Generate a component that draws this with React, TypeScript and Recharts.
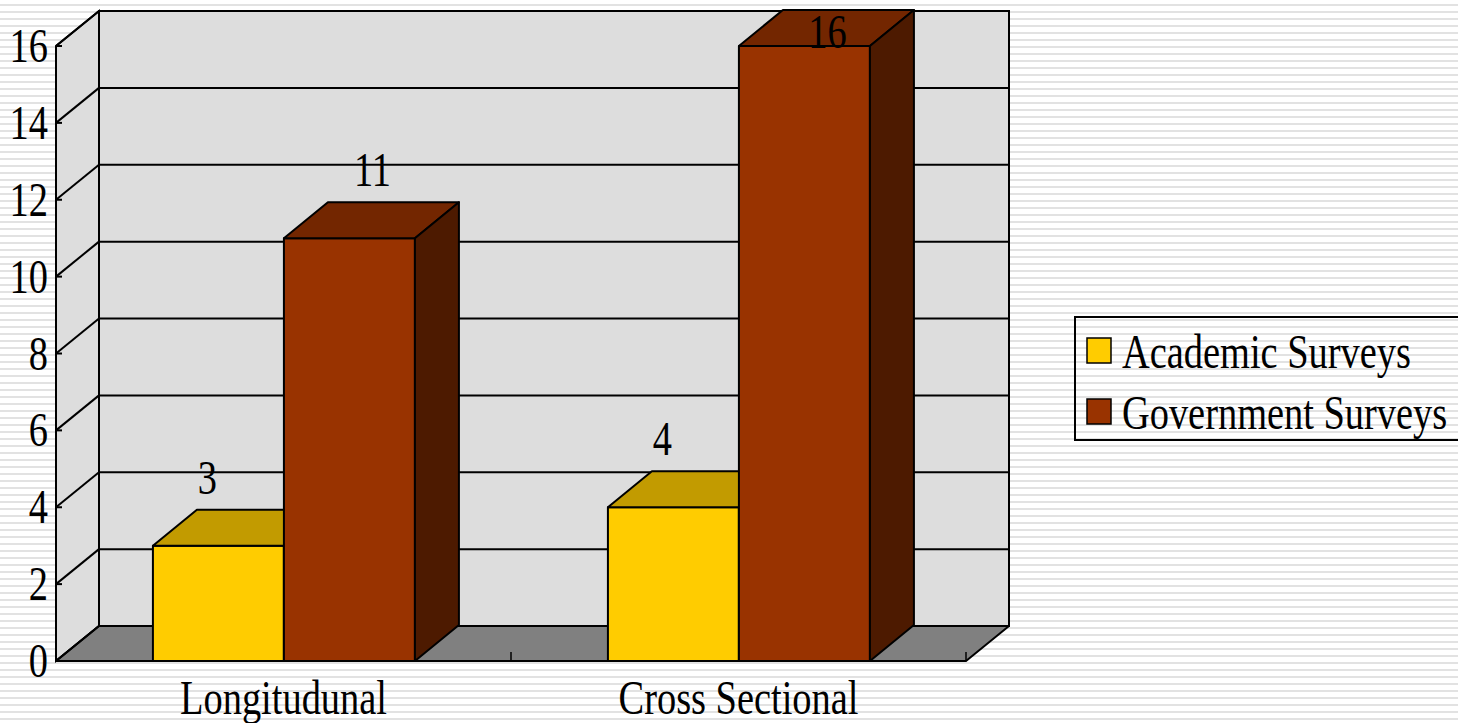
import React from 'react';
import { BarChart, Bar, XAxis, YAxis, ReferenceArea, ReferenceLine, LabelList, Legend } from 'recharts';

const categories = ['Longitudunal', 'Cross Sectional'];
const academicSurveys = [3, 4];
const governmentSurveys = [11, 16];
const yTicks = [0, 2, 4, 6, 8, 10, 12, 14, 16];

const data = categories.map((name, i) => ({
  name,
  academic: academicSurveys[i],
  government: governmentSurveys[i],
}));

const FONT = 'Liberation Serif, DejaVu Serif, serif';
// depth of the 3d walls and of the boxes
const WX = 43, WY = -35;
const BX = 44, BY = -36;

const series = [
  { key: 'academic', name: 'Academic Surveys', front: '#ffcc00', top: '#c29b00', side: '#806600', shift: -11 },
  { key: 'government', name: 'Government Surveys', front: '#993300', top: '#732600', side: '#4d1a00', shift: 23 },
];

const Walls = (p: any) => {
  const { x, y, width: w, height: h } = p;
  const b = y + h;
  return (
    <g>
      <polygon points={`${x},${b} ${x},${y} ${x + WX},${y + WY} ${x + WX},${b + WY}`} fill="#dddddd" stroke="#000" strokeWidth={2} />
      <rect x={x + WX} y={y + WY} width={w} height={h} fill="#dddddd" stroke="#000" strokeWidth={2} />
      <polygon points={`${x},${b} ${x + WX},${b + WY} ${x + w + WX},${b + WY} ${x + w},${b}`} fill="#808080" stroke="#000" strokeWidth={2} strokeLinejoin="round" />
      {[0, 0.5, 1].map((f) => (
        <line key={f} x1={x + w * f} y1={b} x2={x + w * f} y2={b - 9} stroke="#000" strokeWidth={1.5} />
      ))}
    </g>
  );
};

const GridLine = (p: any) => {
  const { x1, y1, x2 } = p;
  return (
    <g stroke="#000" strokeWidth={2}>
      <line x1={x1} y1={y1} x2={x1 + WX} y2={y1 + WY} />
      <line x1={x1 + WX} y1={y1 + WY} x2={x2 + WX} y2={y1 + WY} />
      <line x1={x1} y1={y1} x2={x1 + 6} y2={y1} />
    </g>
  );
};

const Box = (p: any) => {
  const { x, y, width: w, height: h, s } = p;
  if (!h) return null;
  return (
    <g stroke="#000" strokeWidth={2} strokeLinejoin="round">
      <rect x={x} y={y} width={w} height={h} fill={s.front} />
      <polygon points={`${x},${y} ${x + BX},${y + BY} ${x + w + BX},${y + BY} ${x + w},${y}`} fill={s.top} />
      <polygon points={`${x + w},${y} ${x + w + BX},${y + BY} ${x + w + BX},${y + h + BY} ${x + w},${y + h}`} fill={s.side} />
    </g>
  );
};

const ValueLabel = (p: any) => {
  const { x, y, width, value, shift } = p;
  const cx = x + width / 2 + shift;
  const cy = Math.max(y - 52, 48);
  return (
    <text transform={`translate(${cx},${cy}) scale(0.8,1)`} textAnchor="middle" fontSize={48} style={{ fontFamily: FONT }} fill="#000">
      {value}
    </text>
  );
};

const YTick = (p: any) => (
  <text transform={`translate(${p.x},${p.y + 16}) scale(0.8,1)`} textAnchor="end" fontSize={48} style={{ fontFamily: FONT }} fill="#000">
    {p.payload.value}
  </text>
);

const XTick = (p: any) => (
  <text transform={`translate(${p.x},${p.y + 53}) scale(0.8,1)`} textAnchor="middle" fontSize={48} style={{ fontFamily: FONT }} fill="#000">
    {p.payload.value}
  </text>
);

const LegendBox = () => (
  <svg width={384} height={126} style={{ display: 'block' }}>
    <rect x={1} y={1} width={420} height={123} fill="none" stroke="#000" strokeWidth={2} />
    {series.map((s, i) => (
      <g key={s.key}>
        <rect x={13} y={22 + i * 61} width={24} height={25} fill={s.front} stroke="#000" strokeWidth={1.5} />
        <text transform={`translate(48,${52 + i * 61}) scale(0.8,1)`} fontSize={48} style={{ fontFamily: FONT }} fill="#000">
          {s.name}
        </text>
      </g>
    ))}
  </svg>
);

export default function App() {
  return (
    <div
      style={{
        position: 'absolute',
        left: 0,
        top: 0,
        width: 1458,
        height: 723,
        overflow: 'hidden',
        fontFamily: FONT,
        background: 'repeating-linear-gradient(180deg, #ffffff 0px, #ffffff 4px, #e2e2e2 4px, #e2e2e2 6px, #ffffff 6px, #ffffff 7px)',
      }}
    >
      <BarChart
        width={1458}
        height={723}
        data={data}
        margin={{ top: 46, right: 492, bottom: 0, left: 0 }}
        barCategoryGap="21.3%"
        barGap={0}
      >
        <XAxis dataKey="name" height={62} axisLine={false} tickLine={false} tickSize={0} tickMargin={0} tick={XTick} interval={0} />
        <YAxis width={56} domain={[0, 16]} ticks={yTicks} axisLine={false} tickLine={false} tickSize={0} tickMargin={8} tick={YTick} interval={0} />
        <ReferenceArea y1={0} y2={16} shape={Walls} zIndex={50} />
        {yTicks.map((v) => (
          <ReferenceLine key={v} y={v} shape={GridLine} zIndex={60} />
        ))}
        {series.map((s) => (
          <Bar key={s.key} dataKey={s.key} name={s.name} fill={s.front} isAnimationActive={false} shape={(p: any) => <Box {...p} s={s} />}>
            <LabelList dataKey={s.key} content={(p: any) => <ValueLabel {...p} shift={s.shift} />} />
          </Bar>
        ))}
        <Legend
          layout="horizontal"
          verticalAlign="middle"
          align="center"
          content={() => <LegendBox />}
          wrapperStyle={{ position: 'absolute', left: 1074, top: 316, width: 384, height: 126 }}
        />
      </BarChart>
    </div>
  );
}
